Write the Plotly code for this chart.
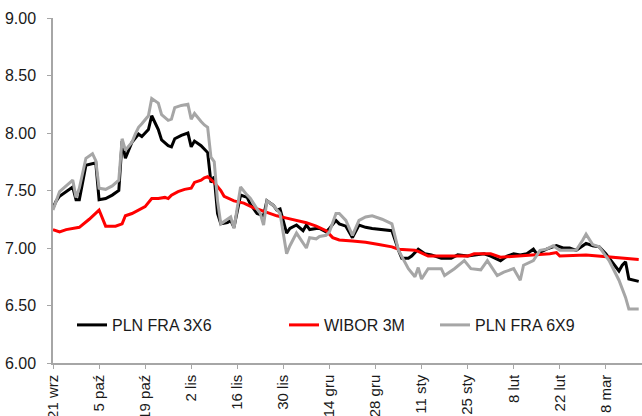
import plotly.graph_objects as go

# PLN FRA 3X6
fra36_dates = [
    "2022-09-21", "2022-09-22", "2022-09-23", "2022-09-25", "2022-09-27", "2022-09-28",
    "2022-09-29", "2022-10-01", "2022-10-03", "2022-10-04", "2022-10-05", "2022-10-07",
    "2022-10-09", "2022-10-11", "2022-10-12", "2022-10-13", "2022-10-15", "2022-10-16",
    "2022-10-17", "2022-10-18", "2022-10-20", "2022-10-21", "2022-10-23", "2022-10-24",
    "2022-10-26", "2022-10-27", "2022-10-28", "2022-10-30", "2022-11-01", "2022-11-02",
    "2022-11-03", "2022-11-05", "2022-11-06", "2022-11-07", "2022-11-08", "2022-11-09",
    "2022-11-10", "2022-11-11", "2022-11-13", "2022-11-14", "2022-11-15", "2022-11-17",
    "2022-11-19", "2022-11-20", "2022-11-22", "2022-11-23", "2022-11-24", "2022-11-25",
    "2022-11-27", "2022-11-28", "2022-11-29", "2022-12-01", "2022-12-02", "2022-12-04",
    "2022-12-06", "2022-12-07", "2022-12-08", "2022-12-10", "2022-12-11", "2022-12-13",
    "2022-12-14", "2022-12-16", "2022-12-17", "2022-12-19", "2022-12-21", "2022-12-23",
    "2022-12-25", "2022-12-27", "2022-12-30", "2023-01-02", "2023-01-04", "2023-01-05",
    "2023-01-07", "2023-01-08", "2023-01-10", "2023-01-12", "2023-01-14", "2023-01-17",
    "2023-01-20", "2023-01-22", "2023-01-25", "2023-01-27", "2023-01-30", "2023-02-01",
    "2023-02-04", "2023-02-06", "2023-02-08", "2023-02-10", "2023-02-12", "2023-02-14",
    "2023-02-15", "2023-02-18", "2023-02-19", "2023-02-21", "2023-02-23", "2023-02-25",
    "2023-02-27", "2023-03-01", "2023-03-02", "2023-03-04", "2023-03-06", "2023-03-08",
    "2023-03-10", "2023-03-12", "2023-03-13", "2023-03-14", "2023-03-15", "2023-03-17",
    "2023-03-18",
]
fra36_values = [
    7.35, 7.41, 7.45, 7.49, 7.53, 7.42,
    7.42, 7.72, 7.73, 7.74, 7.42, 7.43,
    7.46, 7.50, 7.93, 7.78, 7.92, 7.96,
    7.99, 7.97, 8.03, 8.15, 8.03, 7.94,
    7.89, 7.88, 7.95, 7.98, 8.00, 7.88,
    7.93, 7.89, 7.86, 7.83, 7.57, 7.62,
    7.30, 7.21, 7.22, 7.24, 7.18, 7.46,
    7.44, 7.38, 7.30, 7.29, 7.28, 7.41,
    7.37, 7.33, 7.34, 7.13, 7.17, 7.20,
    7.15, 7.20, 7.16, 7.17, 7.17, 7.14,
    7.17, 7.24, 7.21, 7.19, 7.09, 7.20,
    7.18, 7.17, 7.16, 7.15, 6.98, 6.91,
    6.91, 6.93, 6.99, 6.95, 6.94, 6.91,
    6.91, 6.94, 6.93, 6.94, 6.95, 6.93,
    6.89, 6.93, 6.95, 6.94, 6.95, 6.99,
    6.95, 6.99, 7.00, 7.02, 7.00, 7.00,
    6.98, 7.02, 7.04, 7.02, 7.01, 6.95,
    6.88, 6.80, 6.85, 6.88, 6.73, 6.72,
    6.71,
]

# WIBOR 3M
wibor_dates = [
    "2022-09-21", "2022-09-23", "2022-09-25", "2022-09-29", "2022-10-02", "2022-10-05",
    "2022-10-07", "2022-10-10", "2022-10-12", "2022-10-13", "2022-10-15", "2022-10-17",
    "2022-10-19", "2022-10-21", "2022-10-23", "2022-10-25", "2022-10-26", "2022-10-27",
    "2022-10-29", "2022-10-31", "2022-11-02", "2022-11-03", "2022-11-05", "2022-11-06",
    "2022-11-07", "2022-11-09", "2022-11-11", "2022-11-12", "2022-11-15", "2022-11-18",
    "2022-11-21", "2022-11-25", "2022-11-28", "2022-12-01", "2022-12-04", "2022-12-07",
    "2022-12-10", "2022-12-13", "2022-12-15", "2022-12-17", "2022-12-21", "2022-12-25",
    "2022-12-29", "2023-01-02", "2023-01-04", "2023-01-09", "2023-01-10", "2023-01-13",
    "2023-01-19", "2023-01-25", "2023-01-27", "2023-02-01", "2023-02-04", "2023-02-10",
    "2023-02-14", "2023-02-19", "2023-02-21", "2023-02-22", "2023-03-02", "2023-03-06",
    "2023-03-11", "2023-03-16", "2023-03-18",
]
wibor_values = [
    7.16, 7.14, 7.16, 7.18, 7.25, 7.33,
    7.19, 7.19, 7.21, 7.28, 7.30, 7.33,
    7.36, 7.43, 7.43, 7.44, 7.43, 7.46,
    7.49, 7.51, 7.52, 7.57, 7.59, 7.61,
    7.62, 7.57, 7.50, 7.45, 7.41, 7.39,
    7.35, 7.31, 7.28, 7.26, 7.24, 7.22,
    7.19, 7.15, 7.09, 7.07, 7.06, 7.05,
    7.03, 7.01, 6.99, 6.98, 6.97, 6.93,
    6.93, 6.93, 6.95, 6.95, 6.92, 6.93,
    6.94, 6.95, 6.96, 6.93, 6.94, 6.93,
    6.92, 6.91, 6.90,
]

# PLN FRA 6X9
fra69_dates = [
    "2022-09-21", "2022-09-22", "2022-09-23", "2022-09-25", "2022-09-27", "2022-09-28",
    "2022-09-29", "2022-10-01", "2022-10-03", "2022-10-04", "2022-10-05", "2022-10-07",
    "2022-10-09", "2022-10-11", "2022-10-12", "2022-10-13", "2022-10-15", "2022-10-16",
    "2022-10-17", "2022-10-18", "2022-10-20", "2022-10-21", "2022-10-23", "2022-10-24",
    "2022-10-26", "2022-10-27", "2022-10-28", "2022-10-30", "2022-11-01", "2022-11-02",
    "2022-11-03", "2022-11-05", "2022-11-06", "2022-11-07", "2022-11-08", "2022-11-09",
    "2022-11-10", "2022-11-11", "2022-11-13", "2022-11-14", "2022-11-15", "2022-11-17",
    "2022-11-19", "2022-11-20", "2022-11-22", "2022-11-23", "2022-11-24", "2022-11-25",
    "2022-11-27", "2022-11-28", "2022-11-29", "2022-12-01", "2022-12-02", "2022-12-04",
    "2022-12-06", "2022-12-07", "2022-12-08", "2022-12-10", "2022-12-11", "2022-12-13",
    "2022-12-14", "2022-12-16", "2022-12-17", "2022-12-19", "2022-12-21", "2022-12-23",
    "2022-12-25", "2022-12-27", "2022-12-30", "2023-01-02", "2023-01-04", "2023-01-05",
    "2023-01-07", "2023-01-09", "2023-01-10", "2023-01-11", "2023-01-13", "2023-01-17",
    "2023-01-18", "2023-01-21", "2023-01-24", "2023-01-26", "2023-01-29", "2023-01-31",
    "2023-02-03", "2023-02-05", "2023-02-08", "2023-02-10", "2023-02-11", "2023-02-14",
    "2023-02-16", "2023-02-18", "2023-02-20", "2023-02-22", "2023-02-24", "2023-02-27",
    "2023-03-01", "2023-03-02", "2023-03-04", "2023-03-06", "2023-03-09", "2023-03-12",
    "2023-03-14", "2023-03-15", "2023-03-17", "2023-03-18",
]
fra69_values = [
    7.33, 7.42, 7.49, 7.54, 7.59, 7.44,
    7.52, 7.78, 7.82, 7.76, 7.52, 7.51,
    7.54, 7.59, 7.95, 7.85, 7.92, 7.99,
    8.05, 8.08, 8.15, 8.30, 8.26, 8.16,
    8.11, 8.12, 8.22, 8.24, 8.25, 8.12,
    8.17, 8.10, 8.07, 8.05, 7.79, 7.75,
    7.41, 7.21, 7.25, 7.27, 7.17, 7.53,
    7.46, 7.43, 7.34, 7.30, 7.20, 7.41,
    7.37, 7.33, 7.30, 6.95, 7.02, 7.13,
    7.04, 7.00, 7.09, 7.08, 7.10, 7.11,
    7.14, 7.30, 7.30, 7.24, 7.11, 7.24,
    7.27, 7.28, 7.25, 7.21, 6.98, 6.93,
    6.82, 6.75, 6.83, 6.73, 6.82, 6.82,
    6.76, 6.82, 6.89, 6.82, 6.81, 6.89,
    6.76, 6.79, 6.82, 6.72, 6.85, 6.89,
    6.98, 6.99, 7.02, 6.98, 6.98, 6.98,
    7.07, 7.12, 7.03, 7.01, 6.89, 6.72,
    6.57, 6.47, 6.47, 6.47,
]

# Fortnightly date ticks (Polish month abbreviations)
tick_dates = [
    "2022-09-21", "2022-10-05", "2022-10-19", "2022-11-02", "2022-11-16", "2022-11-30",
    "2022-12-14", "2022-12-28", "2023-01-11", "2023-01-25", "2023-02-08", "2023-02-22",
    "2023-03-08",
]
tick_labels = [
    "21 wrz", "5 paź", "19 paź", "2 lis", "16 lis", "30 lis",
    "14 gru", "28 gru", "11 sty", "25 sty", "8 lut", "22 lut", "8 mar",
]

y_ticks = [6.0, 6.5, 7.0, 7.5, 8.0, 8.5, 9.0]

FONT = "Liberation Sans, Arial, sans-serif"
TEXT = "#1a1a1a"
AXIS = "#a6a6a6"

fig = go.Figure()
fig.add_trace(go.Scatter(
    x=fra36_dates, y=fra36_values, mode="lines", name="PLN FRA 3X6",
    line=dict(color="#000000", width=3), legend="legend", showlegend=True,
))
fig.add_trace(go.Scatter(
    x=wibor_dates, y=wibor_values, mode="lines", name="WIBOR 3M",
    line=dict(color="#ff0000", width=3), legend="legend2", showlegend=True,
))
fig.add_trace(go.Scatter(
    x=fra69_dates, y=fra69_values, mode="lines", name="PLN FRA 6X9",
    line=dict(color="#a6a6a6", width=3), legend="legend3", showlegend=True,
))

legend_common = dict(
    orientation="h", xref="container", yref="container", yanchor="middle",
    xanchor="left", bgcolor="rgba(0,0,0,0)", borderwidth=0,
    font=dict(family=FONT, size=16, color=TEXT),
)

fig.update_layout(
    width=642, height=416,
    margin=dict(l=53, r=0, t=18, b=53, autoexpand=False),
    showlegend=True,
    paper_bgcolor="white", plot_bgcolor="white",
    font=dict(family=FONT, size=16, color=TEXT),
    legend=dict(x=72 / 642, y=1 - 325 / 416, **legend_common),
    legend2=dict(x=284 / 642, y=1 - 325 / 416, **legend_common),
    legend3=dict(x=435 / 642, y=1 - 325 / 416, **legend_common),
    xaxis=dict(
        type="date", range=["2022-09-21", "2023-03-19"], automargin=False,
        tickmode="array", tickvals=tick_dates, ticktext=tick_labels,
        tickangle=-90, ticks="outside", ticklen=4, tickcolor=AXIS,
        showline=True, linecolor=AXIS, linewidth=1.5,
        showgrid=False, zeroline=False,
        tickfont=dict(family=FONT, size=15, color=TEXT),
    ),
    yaxis=dict(
        range=[6.0, 9.0], tickmode="array", tickvals=y_ticks, automargin=False,
        tickformat=".2f", ticks="outside", ticklen=4, tickcolor=AXIS,
        showline=True, linecolor=AXIS, linewidth=1.5,
        showgrid=False, zeroline=False, ticklabelstandoff=8,
        tickfont=dict(family=FONT, size=16, color=TEXT),
    ),
)

fig.write_html("out.html")
